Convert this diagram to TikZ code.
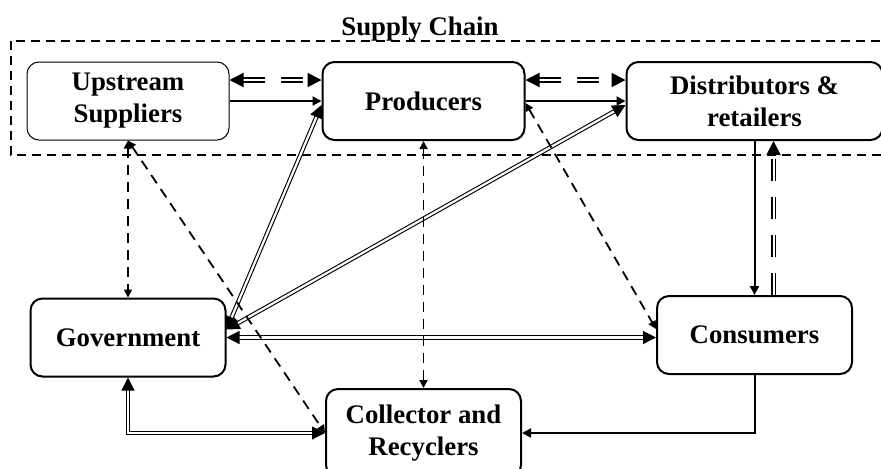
\documentclass[tikz,border=0pt]{standalone}
\usepackage{fontspec}
\setmainfont{Liberation Serif}
\usetikzlibrary{arrows.meta, positioning, calc}

\begin{document}
\begin{tikzpicture}[
    % --- node styles ---
    actor/.style={rectangle, rounded corners=6pt, minimum width=97.5pt,
        minimum height=39pt, align=center, draw=black, line width=1pt,
        fill=white, font=\fontsize{13.4}{16}\selectfont\bfseries,
        inner sep=1pt},
    chaintitle/.style={font=\fontsize{13.4}{16}\selectfont\bfseries, inner sep=0pt},
    chainbox/.style={line width=0.75pt, dash pattern=on 4.5pt off 3pt},
    % --- arrow styles ---
    twoway/.style={{Triangle[length=#1,width=#1]}-{Triangle[length=#1,width=#1]}},
    oneway/.style={-{Triangle[length=#1,width=#1]}},
    flow/.style={oneway=4.5pt, line width=1pt},
    info/.style={twoway=4pt, line width=0.9pt, dash pattern=on 5pt off 3.5pt},
    money/.style={twoway=6.5pt, double, line width=0.55pt, double distance=1.1pt},
    ret/.style={double, line width=0.9pt, double distance=1pt,
        dash pattern=on 11pt off 8pt}
]
\useasboundingbox (0,0) rectangle (440.5pt,-234pt);

%%% ================= SUPPLY CHAIN FRAME =================
\draw [chainbox] (5.5pt,-20.5pt) rectangle (447pt,-77.5pt);
\node (chainlbl) [chaintitle, anchor=base] at (210pt,-17.5pt) {Supply Chain};

%%% ================= ROW 1: SUPPLY CHAIN =================
\node (ups) [actor, line width=0.5pt, minimum width=101pt] at (64pt,-50.5pt)
    {Upstream\\Suppliers};
\node (prod) [actor, minimum width=101pt, right=46pt of ups] {Producers};
\node (dist) [actor, minimum width=128pt, right=50pt of prod]
    {Distributors \&\\retailers};

%%% ================= ROW 2: GOVERNMENT / CONSUMERS =================
\node (gov)  [actor, below=78.5pt of ups] {Government};
\node (cons) [actor, below=77pt of dist] {Consumers};

%%% ================= ROW 3: COLLECTION =================
\node (coll) [actor, minimum height=44pt, below=123.5pt of prod]
    {Collector and\\Recyclers};

%%% ================= SETAS =================
%% Fluxo na cadeia
\draw [ret, twoway=7pt] ([yshift=10.5pt]ups.east) -- ([yshift=10.5pt]prod.west);
\draw [flow] (ups.east) -- (prod.west);
\draw [ret, twoway=7pt] ([yshift=10.5pt]prod.east) -- ([yshift=10.5pt]dist.west);
\draw [flow] (prod.east) -- (dist.west);

%% Governo
\draw [money] ([yshift=4pt]gov.east) -- ([yshift=-2pt]prod.west);
\draw [money] ([yshift=4pt]gov.east) -- ([yshift=-2pt]dist.west);
\draw [money] (gov.east) -- (gov.east -| cons.west);
\draw [money] (gov.south) |- (coll.west);

%% Informacao (tracejado)
\draw [info] (ups.south) -- (gov.north);
\draw [info] (ups.south) -- (coll.west);
\draw [info] (prod.south) -- (coll.north);
\draw [info] ([yshift=-1pt]prod.east) -- ([yshift=3pt]cons.west);

%% Consumidores
\draw [flow] (dist.south) -- (cons.north);
\draw [ret, oneway=7pt] ([xshift=9.5pt]cons.north) -- ([xshift=9.5pt]dist.south);
\draw [flow] (cons.south) |- (coll.east);

\end{tikzpicture}
\end{document}
